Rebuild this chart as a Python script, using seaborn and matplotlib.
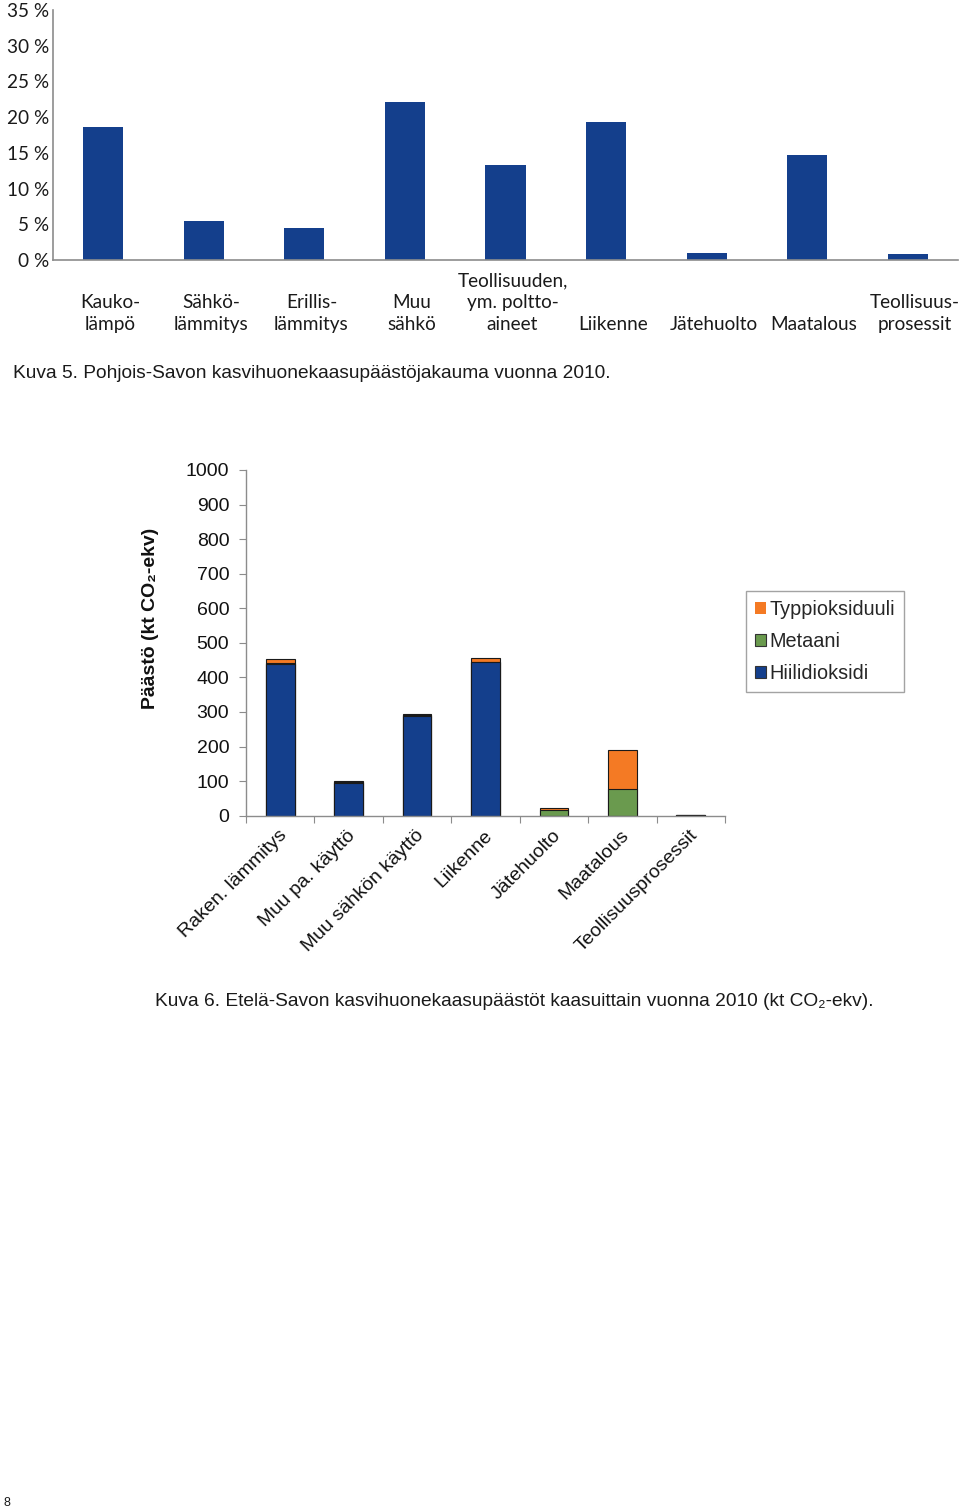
import matplotlib
matplotlib.use("Agg")
import matplotlib.pyplot as plt
import matplotlib.transforms as mtransforms
from matplotlib.patches import Patch
from matplotlib.ticker import FixedLocator
import seaborn as sns
import pandas as pd
import numpy as np

sns.set_style("white")
plt.rcParams['font.family'] = ['Liberation Sans', 'DejaVu Sans']

# ---- Data: Kuva 5 (Pohjois-Savo, share of emissions %) ----
top_categories = ["\nKauko-\nlämpö", "\nSähkö-\nlämmitys", "\nErillis-\nlämmitys", "\nMuu\nsähkö",
                  "Teollisuuden,\nym. poltto-\naineet", "\n\nLiikenne", "\n\nJätehuolto",
                  "\n\nMaatalous", "\nTeollisuus-\nprosessit"]
top_values = [18.6, 5.4, 4.5, 22.1, 13.3, 19.3, 1.0, 14.7, 0.8]
top_yticks = [0, 5, 10, 15, 20, 25, 30, 35]

# ---- Data: Kuva 6 (Etelä-Savo, kt CO2-ekv) ----
bot_categories = ["Raken. lämmitys", "Muu pa. käyttö", "Muu sähkön käyttö", "Liikenne",
                  "Jätehuolto", "Maatalous", "Teollisuusprosessit"]
co2 = [440, 96, 289, 444, 0, 0, 3]
ch4 = [2, 1, 1, 2, 16, 77, 0]
n2o = [11, 3, 4, 9, 5, 113, 0]
bot_yticks = [0, 100, 200, 300, 400, 500, 600, 700, 800, 900, 1000]
series_names = ["Typpioksiduuli", "Metaani", "Hiilidioksidi"]

BLUE = "#143F8C"
GREEN = "#6A9A4E"
ORANGE = "#F47A24"

fig = plt.figure(figsize=(9.6, 15.1), dpi=100)
W, H = 960, 1510

# ================= Top chart =================
ax1 = fig.add_axes([53 / W, 1 - 260 / H, 905 / W, 250 / H])
df1 = pd.DataFrame({"cat": top_categories, "val": top_values})
sns.barplot(data=df1, x="cat", y="val", color=BLUE, saturation=1, width=0.4,
            edgecolor="none", ax=ax1)
ax1.set_ylim(0, 35)
ax1.set_xlim(-0.5, len(top_categories) - 0.5)
ax1.set_yticks(top_yticks)
ax1.set_yticklabels([f"{v} %" for v in top_yticks])
ax1.set_xlabel("")
ax1.set_ylabel("")
for s in ["top", "right"]:
    ax1.spines[s].set_visible(False)
for s in ["left", "bottom"]:
    ax1.spines[s].set_color("#8C8C8C")
    ax1.spines[s].set_linewidth(1.2)
ax1.tick_params(axis="y", length=0, pad=3, labelsize=13.7)
ax1.tick_params(axis="x", length=0, pad=9, labelsize=13.7)
for lab in ax1.get_yticklabels():
    lab.set_family(["Lato", "DejaVu Sans"])
    lab.set_color("#1A1A1A")
shift1 = mtransforms.ScaledTranslation(7 / 100, 0, fig.dpi_scale_trans)
for lab in ax1.get_xticklabels():
    lab.set_family(["Lato", "DejaVu Sans"])
    lab.set_color("#1A1A1A")
    lab.set_linespacing(1.34)
    lab.set_transform(lab.get_transform() + shift1)

fig.text(13 / W, 1 - 373 / H, "Kuva 5. Pohjois-Savon kasvihuonekaasupäästöjakauma vuonna 2010.",
         ha="left", va="center", fontsize=13.8, color="#1A1A1A")

# ================= Bottom chart =================
ax2 = fig.add_axes([246 / W, 1 - 815.7 / H, 479 / W, 345.7 / H])
co2_a = np.array(co2)
ch4_a = np.array(ch4)
n2o_a = np.array(n2o)
df2 = pd.DataFrame({"cat": bot_categories,
                    "total": co2_a + ch4_a + n2o_a,
                    "co2ch4": co2_a + ch4_a,
                    "co2": co2_a})
common = dict(x="cat", saturation=1, width=0.42, edgecolor="#1A1A1A", linewidth=0.8, ax=ax2)
sns.barplot(data=df2, y="total", color=ORANGE, **common)
sns.barplot(data=df2, y="co2ch4", color=GREEN, **common)
sns.barplot(data=df2, y="co2", color=BLUE, **common)
ax2.set_ylim(0, 1000)
ax2.set_xlim(-0.5, len(bot_categories) - 0.5)
ax2.set_yticks(bot_yticks)
ax2.set_xlabel("")
ax2.set_ylabel("Päästö (kt CO₂-ekv)", fontsize=14, fontweight="bold", color="#111111")
ax2.yaxis.set_label_coords(-0.182, 0.572)
for s in ["top", "right"]:
    ax2.spines[s].set_visible(False)
for s in ["left", "bottom"]:
    ax2.spines[s].set_color("#8C8C8C")
    ax2.spines[s].set_linewidth(1.0)
ax2.tick_params(axis="y", direction="out", length=5, width=0.8, color="#8C8C8C",
                pad=7, labelsize=14, left=True)
ax2.set_xticks(np.arange(len(bot_categories)))
ax2.set_xticklabels(bot_categories, rotation=45, ha="right", rotation_mode="anchor", fontsize=14)
ax2.tick_params(axis="x", which="major", length=0, pad=8)
ax2.xaxis.set_minor_locator(FixedLocator(np.arange(-0.5, len(bot_categories), 1.0)))
ax2.tick_params(axis="x", which="minor", direction="out", length=5, width=0.8,
                color="#8C8C8C", bottom=True)
shift2 = mtransforms.ScaledTranslation(-2 / 100, 0, fig.dpi_scale_trans)
for lab in ax2.get_xticklabels():
    lab.set_color("#111111")
    lab.set_transform(lab.get_transform() + shift2)
for lab in ax2.get_yticklabels():
    lab.set_color("#111111")

handles = [Patch(facecolor=ORANGE, edgecolor="none"),
           Patch(facecolor=GREEN, edgecolor="#333333", linewidth=0.8),
           Patch(facecolor=BLUE, edgecolor="#333333", linewidth=0.8)]
leg = fig.legend(handles, series_names, loc="upper left",
                 bbox_to_anchor=(746 / W, 1 - 591 / H), fontsize=14.3,
                 frameon=True, fancybox=False, edgecolor="#8C8C8C",
                 handlelength=0.55, handleheight=0.55, handletextpad=0.2,
                 labelspacing=0.66, borderpad=0.45, borderaxespad=0)
leg.get_frame().set_linewidth(1.0)

fig.text(155 / W, 1 - 1002 / H,
         "Kuva 6. Etelä-Savon kasvihuonekaasupäästöt kaasuittain vuonna 2010 (kt CO₂-ekv).",
         ha="left", va="center", fontsize=13.8, color="#1A1A1A")

fig.text(4 / W, 1 - 1503 / H, "8", ha="left", va="center", fontsize=9, color="#1A1A1A")

fig.savefig("out.png", dpi=100)
